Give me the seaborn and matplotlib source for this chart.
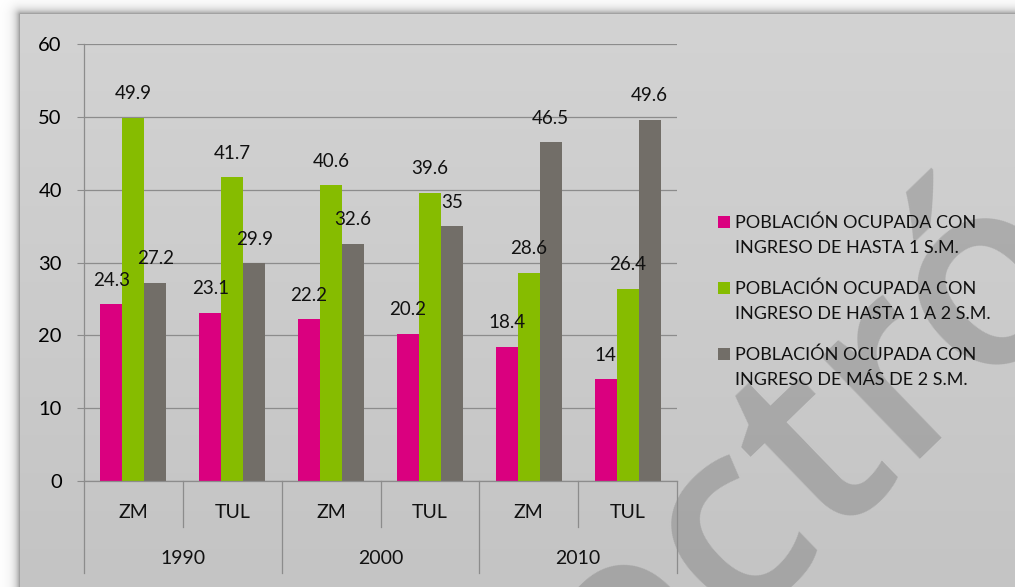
import numpy as np
import pandas as pd
import matplotlib
matplotlib.use("Agg")
import matplotlib.pyplot as plt
import matplotlib.transforms as mtransforms
from matplotlib.patches import Rectangle
from matplotlib.legend_handler import HandlerPatch
import seaborn as sns

# ---- data -------------------------------------------------------------
years = ["1990", "2000", "2010"]
places = ["ZM", "TUL"]
series_labels = [
    "POBLACIÓN OCUPADA CON\nINGRESO DE HASTA 1 S.M.",
    "POBLACIÓN OCUPADA CON\nINGRESO DE HASTA 1 A 2 S.M.",
    "POBLACIÓN OCUPADA CON\nINGRESO DE MÁS DE 2 S.M.",
]
hasta_1_sm = [24.3, 23.1, 22.2, 20.2, 18.4, 14]
hasta_1_a_2_sm = [49.9, 41.7, 40.6, 39.6, 28.6, 26.4]
mas_de_2_sm = [27.2, 29.9, 32.6, 35, 46.5, 49.6]
y_ticks = [0, 10, 20, 30, 40, 50, 60]
colors = ["#DA007F", "#86BC00", "#726E68"]

groups = [f"{y} {p}" for y in years for p in places]
df = pd.DataFrame({
    "grupo": groups * 3,
    "serie": [series_labels[0]] * 6 + [series_labels[1]] * 6 + [series_labels[2]] * 6,
    "valor": hasta_1_sm + hasta_1_a_2_sm + mas_de_2_sm,
})

plt.rcParams["font.family"] = ["Lato", "DejaVu Sans"]

W, H, DPI = 1015, 587, 100
fig = plt.figure(figsize=(W / DPI, H / DPI), dpi=DPI)
fig.patch.set_facecolor("white")

# ---- background: grey panel with a soft shadow ---------------------------
bg = fig.add_axes([0, 0, 1, 1], zorder=-5)
bg.set_axis_off()
yy, xx = np.mgrid[0:H, 0:W].astype(float)
x0, y0 = 20.0, 14.0
panel = 211 - 15 * (yy - y0) / (H - y0)
dx = np.clip(x0 - xx, 0, None)
dy = np.clip(y0 - yy, 0, None)
d = np.sqrt(dx ** 2 + dy ** 2)
shadow = 255 - 115 * np.exp(-d / 4.5)
img = np.where((xx >= x0) & (yy >= y0), panel, shadow)
bg.imshow(np.dstack([img] * 3).astype(np.uint8), extent=(0, W, H, 0), aspect="auto")
bg.set_xlim(0, W)
bg.set_ylim(H, 0)

# faint diagonal watermark
fig.text(968 / W, 1 - 400 / H, "electrónica", rotation=44, rotation_mode="anchor",
         fontsize=190, fontweight="semibold",
         color="#555555", alpha=0.28, ha="center", va="baseline",
         family=["Open Sans", "DejaVu Sans"], zorder=-2)

# ---- main chart ---------------------------------------------------------
left, right, top, bottom = 84, 677, 44, 481
ax = fig.add_axes([left / W, 1 - bottom / H, (right - left) / W, (bottom - top) / H], zorder=1)
ax.set_facecolor("none")

sns.barplot(data=df, x="grupo", y="valor", hue="serie", palette=colors,
            width=0.668, gap=0, saturation=1, legend=False, ax=ax, errorbar=None)

n = len(groups)
ax.set_xlim(-0.5, n - 0.5)
ax.set_ylim(0, 60)
ax.set_yticks(y_ticks)
ax.set_xlabel("")
ax.set_ylabel("")
ax.tick_params(axis="x", bottom=False, labelbottom=False)
ax.tick_params(axis="y", length=5, width=0.8, color="#8C8C8C", pad=11, labelsize=14.5)
ax.grid(axis="y", color="#8C8C8C", linewidth=0.9)
ax.set_axisbelow(True)
for s in ["top", "right"]:
    ax.spines[s].set_visible(False)
for s in ["left", "bottom"]:
    ax.spines[s].set_color("#8C8C8C")
    ax.spines[s].set_linewidth(0.9)

# value labels above every bar
for cont in ax.containers:
    for bar in cont:
        v = bar.get_height()
        ax.annotate(f"{v:g}", (bar.get_x() + bar.get_width() / 2, v),
                    xytext=(0, 24), textcoords="offset pixels",
                    ha="center", va="center", fontsize=13.5, color="#111111")

# two-level category axis
ph = bottom - top
trans = mtransforms.blended_transform_factory(ax.transData, ax.transAxes)
for k in range(n + 1):
    xb = k - 0.5
    ybot = -(573 - bottom) / ph if k % 2 == 0 else -(527 - bottom) / ph
    ax.plot([xb, xb], [0, ybot], transform=trans, color="#8C8C8C",
            linewidth=0.9, clip_on=False)
for i, g in enumerate(groups):
    ax.text(i, -(513 - bottom) / ph, g.split(" ")[1], transform=trans,
            ha="center", va="center", fontsize=14, color="#111111")
for j, y in enumerate(years):
    ax.text(2 * j + 0.5, -(558 - bottom) / ph, y, transform=trans,
            ha="center", va="center", fontsize=14, color="#111111")


# legend: square marker aligned with the first line of each label
class FirstLinePatch(HandlerPatch):
    def __init__(self, shift, **kw):
        super().__init__(**kw)
        self.shift = shift

    def create_artists(self, legend, orig_handle, xdescent, ydescent,
                       width, height, fontsize, trans):
        p = Rectangle((-xdescent, -ydescent + self.shift), width, height,
                      facecolor=orig_handle.get_facecolor(), edgecolor="none")
        p.set_transform(trans)
        return [p]


handles = [Rectangle((0, 0), 1, 1, facecolor=c, edgecolor="none") for c in colors]
leg = ax.legend(handles, series_labels, loc="upper left",
                bbox_to_anchor=(718 / W, 1 - 214 / H), bbox_transform=fig.transFigure,
                frameon=False, fontsize=13, borderpad=0, borderaxespad=0,
                handlelength=0.65, handleheight=0.65, handletextpad=0.3,
                labelspacing=1.36,
                handler_map={Rectangle: FirstLinePatch(shift=9.5)})
for t in leg.get_texts():
    t.set_color("#111111")
    t.set_linespacing(1.7)

fig.savefig("out.png", dpi=DPI)
